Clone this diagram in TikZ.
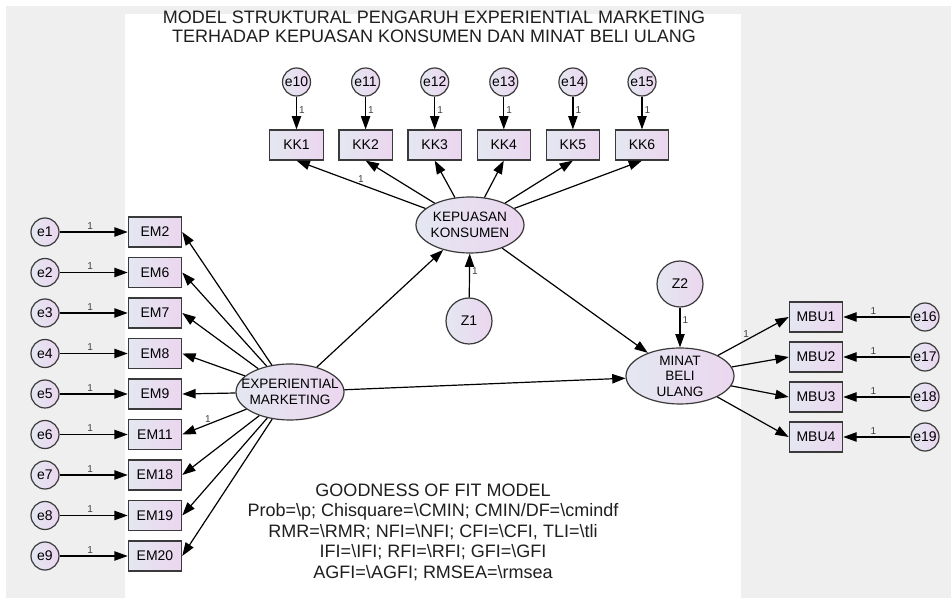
\documentclass[tikz,border=0pt]{standalone}
\usepackage{fontspec}
\setmainfont{Liberation Sans}
\usetikzlibrary{arrows.meta,shapes.geometric}
\definecolor{shadel}{HTML}{E4E7F1}
\definecolor{shader}{HTML}{EBD6EF}
\definecolor{edgec}{HTML}{3A3A3A}
\definecolor{canvas}{HTML}{EFEFEF}

\begin{document}
\begin{tikzpicture}[x=0.75pt,y=-0.75pt,
		obs/.style={draw=edgec,line width=0.9pt,left color=shadel,right color=shader,minimum width=40pt,minimum height=22.5pt,inner sep=0pt,font=\fontsize{10.5}{12}\selectfont},
		err/.style={circle,draw=edgec,line width=0.9pt,left color=shadel,right color=shader,minimum size=21pt,inner sep=0pt,font=\fontsize{10.5}{12}\selectfont},
		dist/.style={err,minimum size=34.5pt},
		latent/.style={ellipse,draw=edgec,line width=0.9pt,left color=shadel,right color=shader,minimum width=81pt,minimum height=42pt,inner xsep=-8pt,inner ysep=-6pt,align=center,font=\fontsize{10.2}{11.6}\selectfont},
		reg/.style={-{Triangle[length=10pt,width=7pt]},line width=0.9pt},
		wt/.style={font=\fontsize{7.5}{8}\selectfont,text=black!75,inner sep=1.5pt}]
	\useasboundingbox (0,0) rectangle (951,598);
	\fill[canvas] (6,6) rectangle (951,598);
	\fill[white] (125,14) rectangle (741,598);
	
	\node[font=\fontsize{13.5}{14.25}\selectfont,align=center,text=black!88] (title) at (434,26.5) {MODEL STRUKTURAL PENGARUH EXPERIENTIAL MARKETING\\TERHADAP KEPUASAN KONSUMEN DAN MINAT BELI ULANG};
	
	\node[latent] (exm) at (290,392) {EXPERIENTIAL\\MARKETING};
	\node[latent] (kep) at (470,225) {KEPUASAN\\KONSUMEN};
	\node[latent] (mbu) at (680,376) {MINAT\\BELI\\ULANG};
	\node[dist] (z1) at (469,321) {Z1};
	\node[dist] (z2) at (680,284) {Z2};
	
	\foreach \k [count=\i] in {2,6,7,8,9,11,18,19,20}{
		\node[obs] (EM\k) at (155,{191.5+40.5*\i}) {EM\k};
		\node[err] (e\i) at (45,{191.5+40.5*\i}) {e\i};
		\draw[reg] (e\i) -- node[wt,above,pos=0.45] (we\i) {1} (EM\k);
		\draw[reg] (exm) -- (EM\k.east);
	}
	\foreach \i in {1,...,6}{
		\pgfmathtruncatemacro\ee{\i+9}
		\node[obs] (KK\i) at ({227.4+69.1*\i},145) {KK\i};
		\node[err] (e\ee) at ({227.4+69.1*\i},82) {e\ee};
		\draw[reg] (e\ee) -- node[wt,right,pos=0.4] (we\ee) {1} (KK\i);
		\draw[reg] (kep) -- (KK\i.south);
	}
	\foreach \i in {1,...,4}{
		\pgfmathtruncatemacro\ee{\i+15}
		\node[obs] (MBU\i) at (816,{277+40*\i}) {MBU\i};
		\node[err] (e\ee) at (925,{277+40*\i}) {e\ee};
		\draw[reg] (e\ee) -- node[wt,above,pos=0.55] (we\ee) {1} (MBU\i);
		\draw[reg] (mbu) -- (MBU\i.west);
	}
	
	\draw[reg] (exm) -- (kep);
	\draw[reg] (exm) -- (mbu);
	\draw[reg] (kep) -- (mbu);
	\draw[reg] (z1) -- node[wt,right,pos=0.6] (wz1) {1} (kep);
	\draw[reg] (z2) -- node[wt,right,pos=0.32] (wz2) {1} (mbu);
	\path (kep) -- node[wt,above,pos=0.5] (wkk1) {1} (KK1.south);
	\path (exm) -- node[wt,above,pos=0.6] (wem11) {1} (EM11.east);
	\path (mbu) -- node[wt,above,pos=0.4] (wmbu1) {1} (MBU1.west);
	
	\node[font=\fontsize{13.5}{15.4}\selectfont,align=center,text=black!88] (fit) at (433,532) {GOODNESS OF FIT MODEL\\Prob=\textbackslash p; Chisquare=\textbackslash CMIN; CMIN/DF=\textbackslash cmindf\\RMR=\textbackslash RMR; NFI=\textbackslash NFI; CFI=\textbackslash CFI, TLI=\textbackslash tli\\IFI=\textbackslash IFI; RFI=\textbackslash RFI; GFI=\textbackslash GFI\\AGFI=\textbackslash AGFI; RMSEA=\textbackslash rmsea};
\end{tikzpicture}
\end{document}
